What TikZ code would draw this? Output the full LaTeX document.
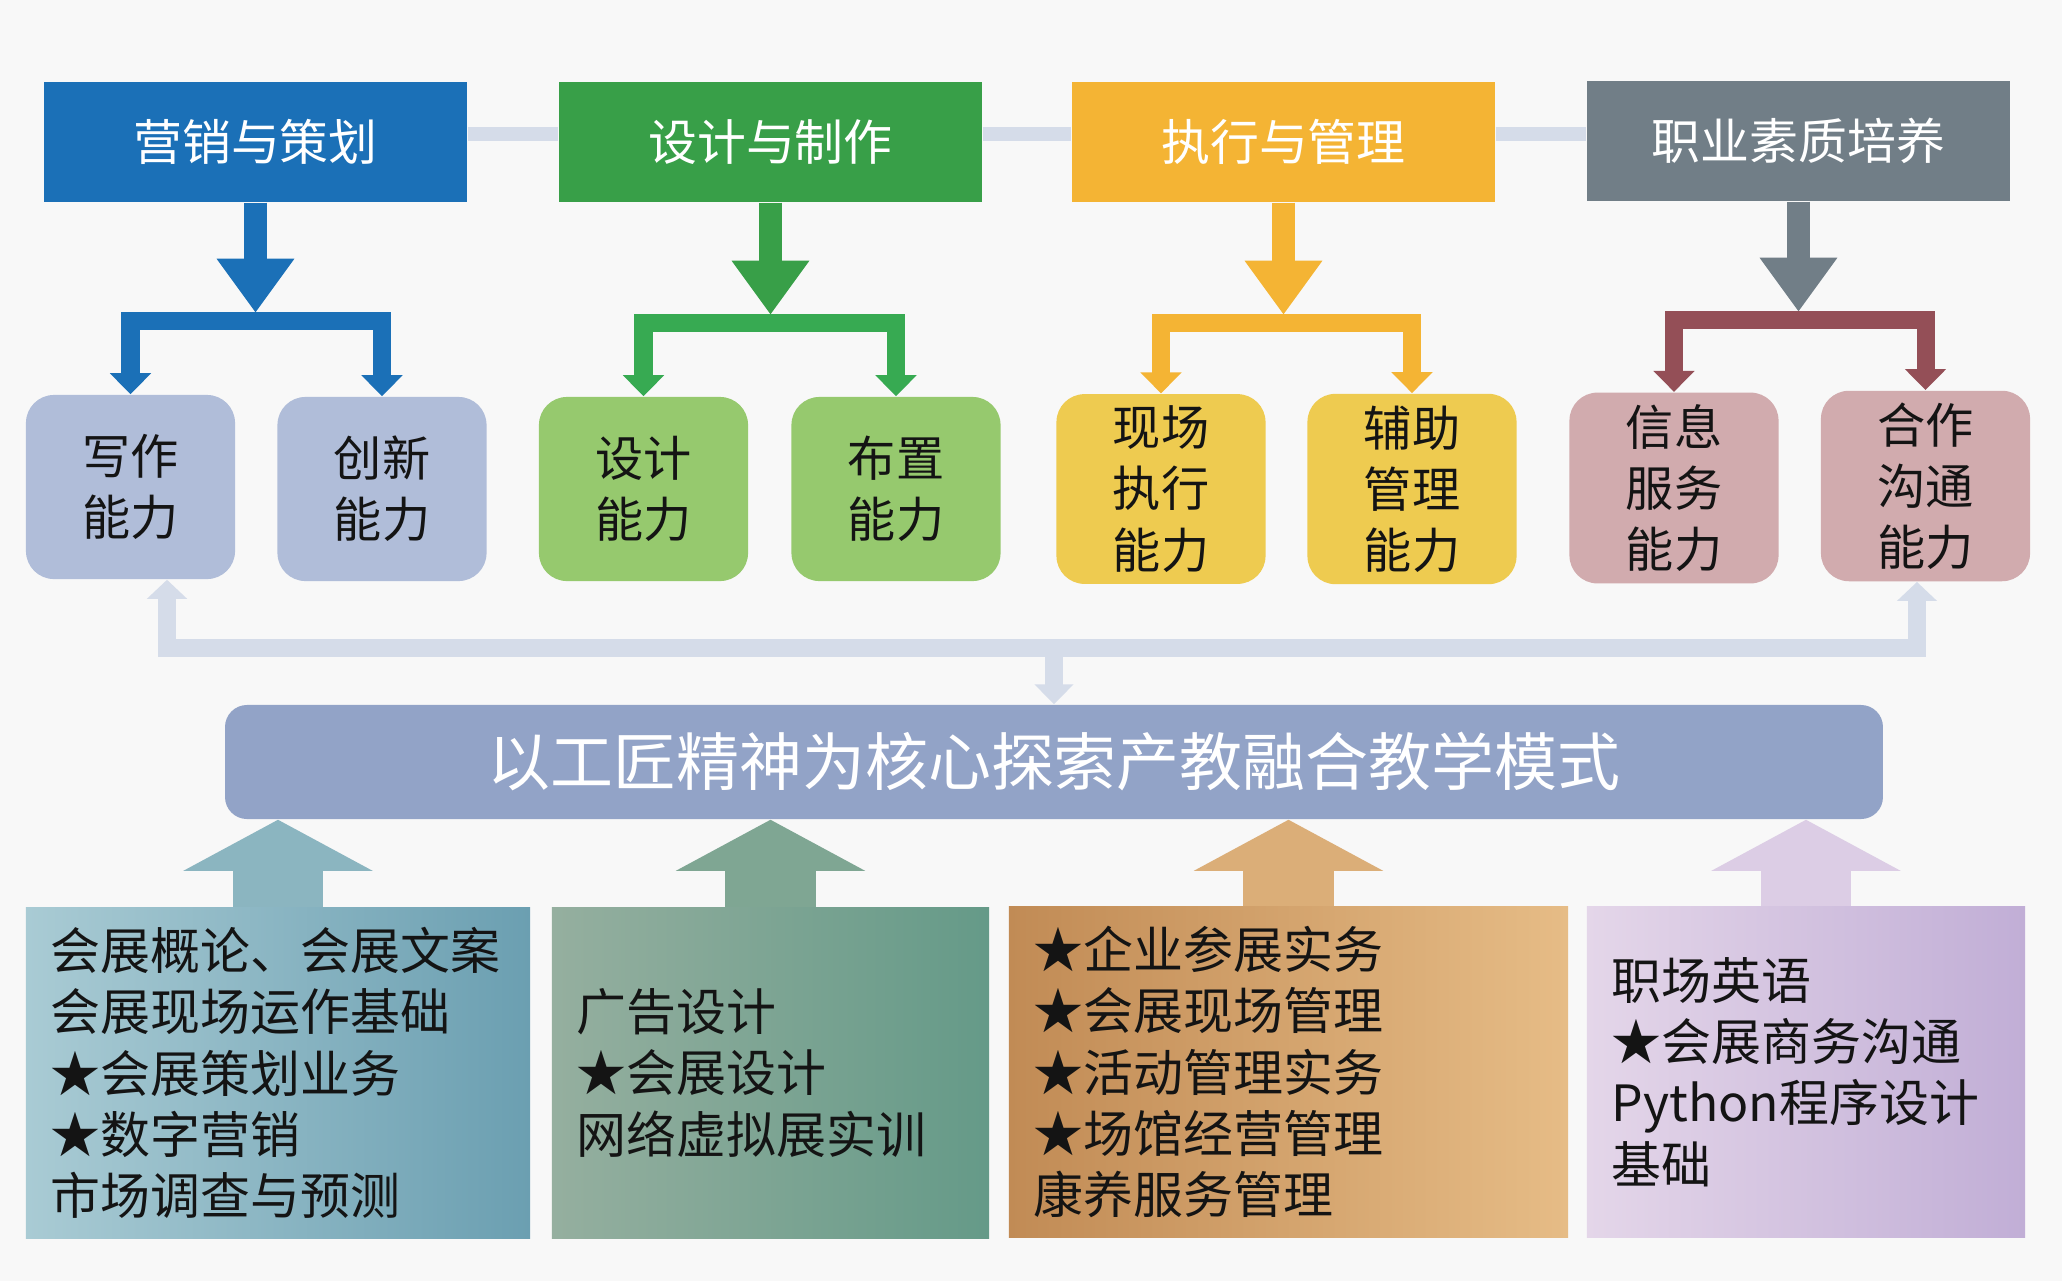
\documentclass[tikz,border=0pt]{standalone}
\usepackage{fontspec}
\setmainfont{Noto Sans CJK SC}
\usetikzlibrary{arrows.meta,positioning}
\definecolor{bgcol}{HTML}{F8F8F8}
\definecolor{mktblue}{HTML}{1B70B7}
\definecolor{desgreen}{HTML}{389F48}
\definecolor{desfork}{HTML}{37AA52}
\definecolor{exeyellow}{HTML}{F4B434}
\definecolor{progray}{HTML}{717E87}
\definecolor{profork}{HTML}{944F57}
\definecolor{capblue}{HTML}{B0BDD9}
\definecolor{capgreen}{HTML}{96C96E}
\definecolor{capyellow}{HTML}{EECB50}
\definecolor{cappink}{HTML}{D1ABAE}
\definecolor{mainblue}{HTML}{92A3C7}
\definecolor{linkgray}{HTML}{D5DCE9}
\definecolor{cAl}{HTML}{A9CBD4}\definecolor{cAr}{HTML}{6B9FB1}\definecolor{cAa}{HTML}{8BB5C0}
\definecolor{cBl}{HTML}{95AF9F}\definecolor{cBr}{HTML}{659A88}\definecolor{cBa}{HTML}{7FA693}
\definecolor{cCl}{HTML}{C18B55}\definecolor{cCr}{HTML}{E6BC86}\definecolor{cCa}{HTML}{DBAE78}
\definecolor{cDl}{HTML}{E4D6E9}\definecolor{cDr}{HTML}{C1AED6}\definecolor{cDa}{HTML}{DCCDE5}
\begin{document}
\begin{tikzpicture}[x=0.01cm,y=-0.01cm,
  headbox/.style={fill=#1,text=white,minimum width=4.23cm,minimum height=1.2cm,font=\fontsize{13.9pt}{16pt}\selectfont},
  skillbox/.style={fill=#1,rounded corners=0.28cm,minimum width=2.09cm,minimum height=1.84cm,align=center,text=black!92,font=\fontsize{13.7pt}{17.4pt}\selectfont},
  coursebox/.style 2 args={left color=#1,right color=#2,minimum height=3.31cm,inner xsep=0.25cm,align=left,text=black!92,font=\fontsize{14.2pt}{17.4pt}\selectfont},
  fat/.style={draw=#1,line width=0.23cm,-{Triangle[width=0.74cm,length=0.54cm]}},
  fork/.style={draw=#1,line width=0.18cm,{Triangle[width=0.4cm,length=0.21cm]}-{Triangle[width=0.4cm,length=0.21cm]}},
  rise/.style={draw=#1,line width=0.9cm,-{Triangle[width=1.87cm,length=0.51cm]}},
  link/.style={draw=linkgray,line width=0.18cm}]
\useasboundingbox (0,0) rectangle (2062,1281);
\fill[bgcol] (0,0) rectangle (2062,1281);
% top row
\node[headbox=mktblue] (mkt) at (255.5,142) {营销与策划};
\node[headbox=desgreen] (des) at (770.5,142) {设计与制作};
\node[headbox=exeyellow] (exe) at (1283.5,142) {执行与管理};
\node[headbox=progray] (pro) at (1798.5,141) {职业素质培养};
\draw[link,line width=0.14cm] ([yshift=.08cm]mkt.east) -- ([yshift=.08cm]des.west);
\draw[link,line width=0.14cm] ([yshift=.08cm]des.east) -- ([yshift=.08cm]exe.west);
\draw[link,line width=0.14cm] ([yshift=.08cm]exe.east) -- ([yshift=.07cm]pro.west);
% abilities
\node[skillbox=capblue] (w1) at (130.5,487) {写作\\能力};
\node[skillbox=capblue] (w2) at (382,489) {创新\\能力};
\node[skillbox=capgreen] (w3) at (643.5,489) {设计\\能力};
\node[skillbox=capgreen] (w4) at (896,489) {布置\\能力};
\node[skillbox=capyellow] (w5) at (1161,489) {现场\\执行\\能力};
\node[skillbox=capyellow] (w6) at (1412,489) {辅助\\管理\\能力};
\node[skillbox=cappink] (w7) at (1674,488) {信息\\服务\\能力};
\node[skillbox=cappink] (w8) at (1925.5,486) {合作\\沟通\\能力};
\draw[fat=mktblue] (mkt.south) -- ++(0,110) coordinate (mktj);
\draw[fat=desgreen] (des.south) -- ++(0,112) coordinate (desj);
\draw[fat=exeyellow] (exe.south) -- ++(0,112) coordinate (exej);
\draw[fat=progray] (pro.south) -- ++(0,110) coordinate (proj);
\draw[fork=mktblue] (w1.north) |- ([yshift=-.085cm]mktj) -| (w2.north);
\draw[fork=desfork] (w3.north) |- ([yshift=-.085cm]desj) -| (w4.north);
\draw[fork=exeyellow] (w5.north) |- ([yshift=-.085cm]exej) -| (w6.north);
\draw[fork=profork] (w7.north) |- ([yshift=-.085cm]proj) -| (w8.north);
% core
\node[fill=mainblue,rounded corners=0.22cm,minimum width=16.57cm,minimum height=1.14cm,text=white!96,font=\fontsize{17.9pt}{20pt}\selectfont] (main) at (1054,762) {以工匠精神为核心探索产教融合教学模式};
\coordinate (bus) at (1054,648);
\draw[link,{Triangle[width=0.39cm,length=0.19cm]}-{Triangle[width=0.39cm,length=0.19cm]}] ([xshift=.365cm]w1.south) |- (bus) -| ([xshift=-.085cm]w8.south);
\draw[link,-{Triangle[width=0.38cm,length=0.2cm]}] (bus) -- (main.north);
% courses
\node[coursebox={cAl}{cAr},text width=4.54cm] (c1) at (278,1073) {会展概论、会展文案\\会展现场运作基础\\★会展策划业务\\★数字营销\\市场调查与预测};
\node[coursebox={cBl}{cBr},text width=3.87cm] (c2) at (770.5,1073) {广告设计\\★会展设计\\网络虚拟展实训};
\node[coursebox={cCl}{cCr},text width=5.09cm] (c3) at (1288.5,1072) {★企业参展实务\\★会展现场管理\\★活动管理实务\\★场馆经营管理\\康养服务管理};
\node[coursebox={cDl}{cDr},text width=3.88cm] (c4) at (1806,1072) {职场英语\\★会展商务沟通\\Python程序设计\\基础};
\draw[rise=cAa] (c1.north) -- (c1.north |- main.south);
\draw[rise=cBa] (c2.north) -- (c2.north |- main.south);
\draw[rise=cCa] (c3.north) -- (c3.north |- main.south);
\draw[rise=cDa] (c4.north) -- (c4.north |- main.south);
\end{tikzpicture}
\end{document}
